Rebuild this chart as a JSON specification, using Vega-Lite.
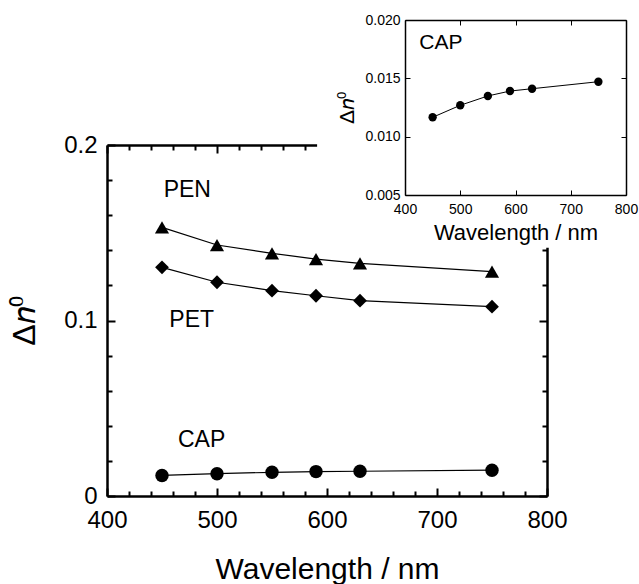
{
  "$schema": "https://vega.github.io/schema/vega-lite/v6.json",
  "width": 440,
  "height": 351,
  "autosize": "none",
  "padding": {"left": 107, "top": 145, "right": 92, "bottom": 88},
  "background": "white",
  "config": {
    "view": {"stroke": null},
    "font": "Liberation Sans",
    "axis": {
      "domainColor": "black", "tickColor": "black", "labelColor": "black", "titleColor": "black",
      "labelFont": "Liberation Sans", "titleFont": "Liberation Sans", "titleFontWeight": "normal",
      "grid": false, "labelFlush": false, "labelOverlap": false
    }
  },
  "datasets": {
    "main": [
      {"series": "PEN", "wavelength": 450, "dn": 0.1531},
      {"series": "PEN", "wavelength": 500, "dn": 0.1430},
      {"series": "PEN", "wavelength": 550, "dn": 0.1383},
      {"series": "PEN", "wavelength": 590, "dn": 0.1350},
      {"series": "PEN", "wavelength": 630, "dn": 0.1326},
      {"series": "PEN", "wavelength": 750, "dn": 0.1278},
      {"series": "PET", "wavelength": 450, "dn": 0.1303},
      {"series": "PET", "wavelength": 500, "dn": 0.1218},
      {"series": "PET", "wavelength": 550, "dn": 0.1170},
      {"series": "PET", "wavelength": 590, "dn": 0.1141},
      {"series": "PET", "wavelength": 630, "dn": 0.1113},
      {"series": "PET", "wavelength": 750, "dn": 0.1079},
      {"series": "CAP", "wavelength": 450, "dn": 0.0117},
      {"series": "CAP", "wavelength": 500, "dn": 0.0127},
      {"series": "CAP", "wavelength": 550, "dn": 0.0135},
      {"series": "CAP", "wavelength": 590, "dn": 0.0139},
      {"series": "CAP", "wavelength": 630, "dn": 0.0141},
      {"series": "CAP", "wavelength": 750, "dn": 0.0147}
    ],
    "labels": [
      {"label": "PEN", "wavelength": 473, "dn": 0.1744},
      {"label": "PET", "wavelength": 477, "dn": 0.1003},
      {"label": "CAP", "wavelength": 486, "dn": 0.0319}
    ],
    "inset": [
      {"wavelength": 450, "dn": 0.01166},
      {"wavelength": 500, "dn": 0.01269},
      {"wavelength": 550, "dn": 0.01349},
      {"wavelength": 590, "dn": 0.01391},
      {"wavelength": 630, "dn": 0.01411},
      {"wavelength": 750, "dn": 0.01471}
    ],
    "insetLabel": [
      {"label": "CAP", "wavelength": 465, "dn": 0.0180}
    ]
  },
  "resolve": {"scale": {"x": "independent", "y": "independent"}},
  "layer": [
    {
      "resolve": {"axis": {"x": "independent", "y": "independent"}},
      "layer": [
        {
          "data": {"name": "main"},
          "mark": {"type": "line", "color": "black", "strokeWidth": 1.2},
          "encoding": {
            "x": {"field": "wavelength", "type": "quantitative",
              "scale": {"domain": [400, 800], "nice": false, "zero": false},
              "axis": {"orient": "bottom", "values": [400, 500, 600, 700, 800], "format": "d",
                "tickSize": -8, "tickWidth": 2, "domainWidth": 2.5, "labelFontSize": 24, "labelPadding": 20,
                "title": "Wavelength / nm", "titleFontSize": 30, "titlePadding": 22}},
            "y": {"field": "dn", "type": "quantitative",
              "scale": {"domain": [0, 0.2], "nice": false, "zero": false},
              "axis": {"orient": "left", "values": [0, 0.1, 0.2], "format": "~g",
                "tickSize": -8, "tickWidth": 2, "domainWidth": 2.5, "labelFontSize": 24, "labelPadding": 18,
                "title": "Δ𝑛⁰", "titleFontSize": 32, "titlePadding": 22}},
            "detail": {"field": "series", "type": "nominal"}
          }
        },
        {
          "data": {"name": "main"},
          "mark": {"type": "point", "filled": true, "color": "black", "opacity": 1},
          "encoding": {
            "x": {"field": "wavelength", "type": "quantitative",
              "scale": {"domain": [400, 800], "nice": false, "zero": false},
              "axis": {"orient": "bottom", "values": [420, 440, 460, 480, 520, 540, 560, 580, 620, 640, 660, 680, 720, 740, 760, 780],
                "labels": false, "domain": false, "tickSize": -5, "tickWidth": 2, "title": null}},
            "y": {"field": "dn", "type": "quantitative",
              "scale": {"domain": [0, 0.2], "nice": false, "zero": false},
              "axis": {"orient": "left", "values": [0.02, 0.04, 0.06, 0.08, 0.12, 0.14, 0.16, 0.18],
                "labels": false, "domain": false, "tickSize": -5, "tickWidth": 2, "title": null}},
            "shape": {"field": "series", "type": "nominal",
              "scale": {"domain": ["PEN", "PET", "CAP"], "range": ["triangle-up", "diamond", "circle"]}, "legend": null},
            "size": {"field": "series", "type": "ordinal",
              "scale": {"domain": ["PEN", "PET", "CAP"], "range": [200, 180, 160]}, "legend": null}
          }
        },
        {
          "data": {"name": "labels"},
          "mark": {"type": "text", "fontSize": 23, "font": "Liberation Sans", "color": "black", "align": "center", "baseline": "middle"},
          "encoding": {
            "x": {"field": "wavelength", "type": "quantitative",
              "scale": {"domain": [400, 800], "nice": false, "zero": false},
              "axis": {"orient": "top", "values": [400, 500, 600, 700, 800], "labels": false,
                "tickSize": -8, "tickWidth": 2, "domainWidth": 2.5, "title": null}},
            "y": {"field": "dn", "type": "quantitative",
              "scale": {"domain": [0, 0.2], "nice": false, "zero": false},
              "axis": {"orient": "right", "values": [0, 0.1, 0.2], "labels": false,
                "tickSize": -8, "tickWidth": 2, "domainWidth": 2.5, "title": null}},
            "text": {"field": "label", "type": "nominal"}
          }
        },
        {
          "data": {"values": [{"mask": "inset background"}]},
          "mark": {"type": "rect", "fill": "white", "stroke": null},
          "encoding": {
            "x": {"datum": 591, "type": "quantitative",
              "scale": {"domain": [400, 800], "nice": false, "zero": false},
              "axis": {"orient": "top", "values": [420, 440, 460, 480, 520, 540, 560, 580, 620, 640, 660, 680, 720, 740, 760, 780],
                "labels": false, "domain": false, "tickSize": -5, "tickWidth": 2, "title": null}},
            "x2": {"datum": 900},
            "y": {"datum": 0.1415, "type": "quantitative",
              "scale": {"domain": [0, 0.2], "nice": false, "zero": false},
              "axis": {"orient": "right", "values": [0.02, 0.04, 0.06, 0.08, 0.12, 0.14, 0.16, 0.18],
                "labels": false, "domain": false, "tickSize": -5, "tickWidth": 2, "title": null}},
            "y2": {"datum": 0.3}
          }
        }
      ]
    },
    {
      "resolve": {"axis": {"x": "independent", "y": "independent"}},
      "layer": [
        {
          "data": {"name": "inset"},
          "mark": {"type": "line", "color": "black", "strokeWidth": 1},
          "encoding": {
            "x": {"field": "wavelength", "type": "quantitative",
              "scale": {"domain": [400, 800], "range": [298, 519], "nice": false, "zero": false},
              "axis": {"orient": "bottom", "offset": -301, "zindex": 1, "values": [400, 500, 600, 700, 800], "format": "d",
                "tickSize": -5, "tickWidth": 1, "domainWidth": 1.5, "labelFontSize": 14, "labelPadding": 12,
                "title": "Wavelength / nm", "titleFontSize": 22, "titlePadding": 6}},
            "y": {"field": "dn", "type": "quantitative",
              "scale": {"domain": [0.005, 0.02], "range": [50, -125], "nice": false, "zero": false},
              "axis": {"orient": "left", "offset": -298, "zindex": 1, "values": [0.005, 0.01, 0.015, 0.02], "format": ".3f",
                "tickSize": -5, "tickWidth": 1, "domainWidth": 1.5, "labelFontSize": 14, "labelPadding": 10,
                "title": "Δ𝑛⁰", "titleFontSize": 21, "titlePadding": 7}}
          }
        },
        {
          "data": {"name": "inset"},
          "mark": {"type": "point", "shape": "circle", "filled": true, "color": "black", "opacity": 1, "size": 70},
          "encoding": {
            "x": {"field": "wavelength", "type": "quantitative",
              "scale": {"domain": [400, 800], "range": [298, 519], "nice": false, "zero": false},
              "axis": {"orient": "top", "offset": 125, "zindex": 1, "values": [400, 500, 600, 700, 800], "labels": false,
                "tickSize": -5, "tickWidth": 1, "domainWidth": 1.5, "title": null}},
            "y": {"field": "dn", "type": "quantitative",
              "scale": {"domain": [0.005, 0.02], "range": [50, -125], "nice": false, "zero": false},
              "axis": {"orient": "right", "offset": 79, "zindex": 1, "values": [0.005, 0.01, 0.015, 0.02], "labels": false,
                "tickSize": -5, "tickWidth": 1, "domainWidth": 1.5, "title": null}}
          }
        },
        {
          "data": {"name": "insetLabel"},
          "mark": {"type": "text", "fontSize": 21, "font": "Liberation Sans", "color": "black", "align": "center", "baseline": "middle"},
          "encoding": {
            "x": {"field": "wavelength", "type": "quantitative",
              "scale": {"domain": [400, 800], "range": [298, 519], "nice": false, "zero": false}, "axis": null},
            "y": {"field": "dn", "type": "quantitative",
              "scale": {"domain": [0.005, 0.02], "range": [50, -125], "nice": false, "zero": false}, "axis": null},
            "text": {"field": "label", "type": "nominal"}
          }
        }
      ]
    }
  ]
}
